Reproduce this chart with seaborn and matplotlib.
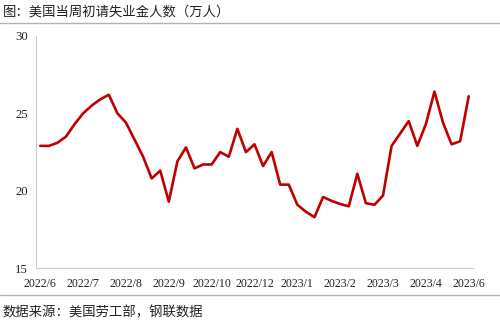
import matplotlib
matplotlib.use("Agg")
import matplotlib.pyplot as plt
import seaborn as sns
import pandas as pd
import numpy as np
from matplotlib.lines import Line2D

# weekly initial jobless claims (10k persons)
values = [22.9, 22.9, 23.1, 23.5, 24.3, 25.0, 25.5, 25.9, 26.2, 25.0,
          24.4, 23.3, 22.2, 20.8, 21.3, 19.3, 21.9, 22.8, 21.45, 21.7,
          21.7, 22.5, 22.2, 24.0, 22.5, 23.0, 21.6, 22.5, 20.4, 20.4,
          19.1, 18.65, 18.3, 19.6, 19.35, 19.15, 19.0, 21.1, 19.2, 19.1,
          19.7, 22.9, 23.7, 24.5, 22.9, 24.3, 26.4, 24.4, 23.0, 23.2, 26.1]
week_index = list(range(len(values)))
tick_labels = ["2022/6", "2022/7", "2022/8", "2022/9", "2022/10", "2022/12",
               "2023/1", "2023/2", "2023/3", "2023/4", "2023/6"]
label_positions = [0, 5, 10, 15, 20, 25, 30, 35, 40, 45, 50]
y_ticks = [15, 20, 25, 30]

title = "图：美国当周初请失业金人数（万人）"
source = "数据来源：美国劳工部，钢联数据"

sns.set_theme(style="white")
plt.rcParams['font.family'] = ['Liberation Serif', 'Noto Sans CJK SC', 'DejaVu Sans']

df = pd.DataFrame({"week": week_index, "claims": values})

fig = plt.figure(figsize=(5.0, 3.26), dpi=100)
ax = fig.add_axes([0.072, 0.177, 0.874, 0.713])

sns.lineplot(data=df, x="week", y="claims", ax=ax, color="#c00000",
             linewidth=1.9, solid_joinstyle="round", solid_capstyle="round")

ax.set_xlim(-0.5, len(values) - 0.5)
ax.set_ylim(15, 30)
ax.set_xlabel("")
ax.set_ylabel("")

ax.set_xticks(label_positions)
ax.set_xticklabels(tick_labels)
ax.set_xticks([-0.5 + 4 * k for k in range(13)], minor=True)
ax.set_yticks(y_ticks)
ax.set_yticklabels([str(v) for v in y_ticks])

ax.tick_params(axis="x", which="major", length=0, pad=7, labelsize=8.6, labelcolor="#222222")
ax.tick_params(axis="x", which="minor", length=4, direction="in", color="#cccccc", width=0.8)
ax.tick_params(axis="y", which="major", length=4, direction="in", pad=6, labelsize=9.2,
               labelcolor="#222222", color="#cccccc", width=0.8)

for s in ["top", "right"]:
    ax.spines[s].set_visible(False)
for s in ["left", "bottom"]:
    ax.spines[s].set_color("#cccccc")
    ax.spines[s].set_linewidth(0.8)

fig.text(0.006, 0.966, title, fontsize=9.6, family=['Noto Sans CJK SC', 'DejaVu Sans'],
         color="#222222", va="center", ha="left")
fig.add_artist(Line2D([0, 1], [0.93, 0.93], transform=fig.transFigure,
                      color="#a9b3c3", linewidth=1.0))
fig.add_artist(Line2D([0, 1], [0.095, 0.095], transform=fig.transFigure,
                      color="#a9b3c3", linewidth=1.0))
fig.text(0.006, 0.043, source, fontsize=9.6, family=['Noto Sans CJK SC', 'DejaVu Sans'],
         color="#222222", va="center", ha="left")

fig.savefig("out.png", dpi=100)
